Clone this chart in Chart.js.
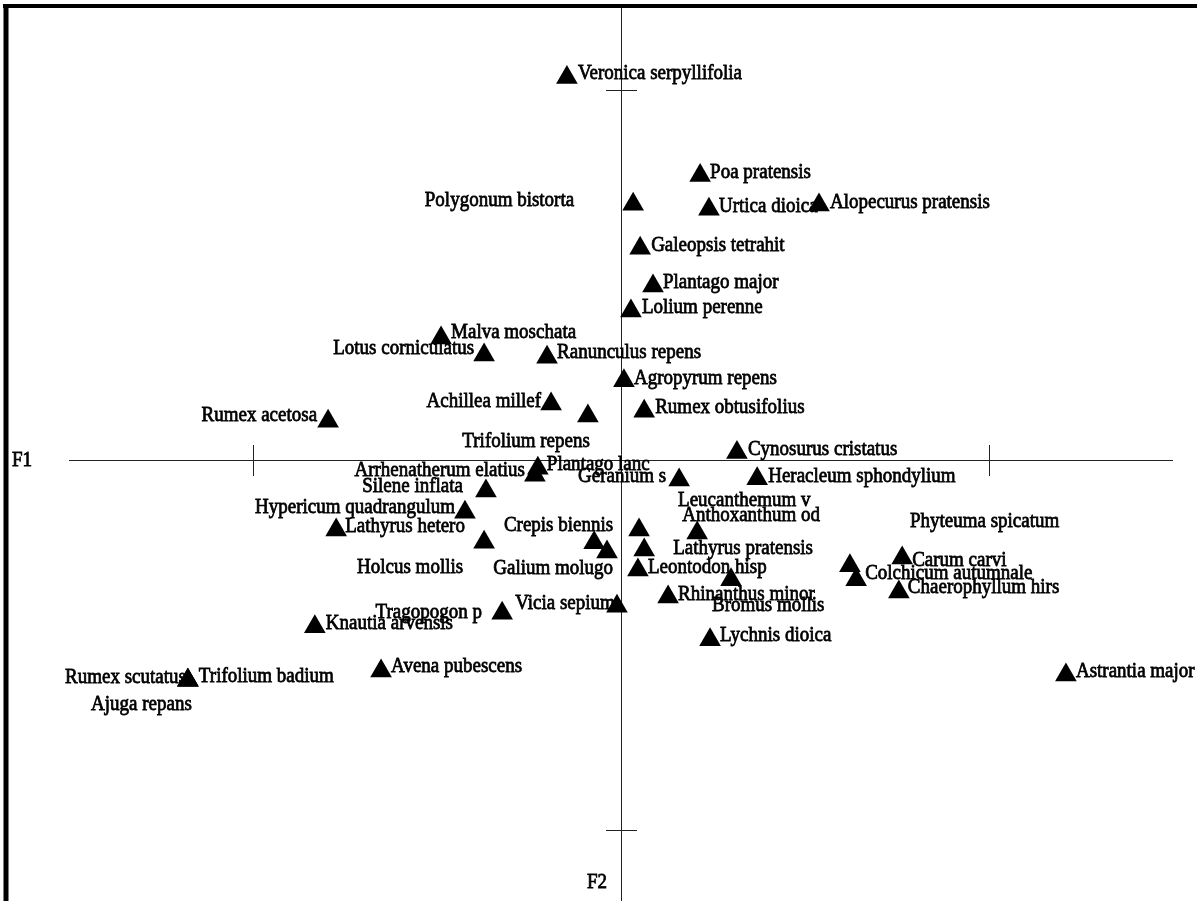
<!DOCTYPE html>
<html>
<head>
<meta charset="utf-8">
<title>F1 x F2</title>
<script src="https://cdn.jsdelivr.net/npm/chart.js@4.4.1/dist/chart.umd.min.js"></script>
<style>
  html, body { margin: 0; padding: 0; background: #ffffff; }
  #wrap { width: 1197px; height: 901px; }
  canvas { display: block; }
</style>
</head>
<body>
<div id="wrap"><canvas id="ordinationChart" width="1197" height="901"></canvas></div>
<script>
// species names + scores on the two factorial axes
const species = [
  'Veronica serpyllifolia', 'Poa pratensis', 'Polygonum bistorta', 'Urtica dioica', 'Alopecurus pratensis',
  'Galeopsis tetrahit', 'Plantago major', 'Lolium perenne', 'Malva moschata', 'Lotus corniculatus',
  'Ranunculus repens', 'Agropyrum repens', 'Achillea millef', 'Trifolium repens', 'Rumex obtusifolius',
  'Rumex acetosa', 'Cynosurus cristatus', 'Plantago lanc', 'Arrhenatherum elatius', 'Geranium s',
  'Heracleum sphondylium', 'Silene inflata', 'Hypericum quadrangulum', 'Lathyrus hetero', 'Holcus mollis',
  'Crepis biennis', 'Galium molugo', 'Leucanthemum v', 'Anthoxanthum od', 'Lathyrus pratensis',
  'Leontodon hisp', 'Bromus mollis', 'Rhinanthus minor', 'Lychnis dioica', 'Vicia sepium',
  'Tragopogon p', 'Knautia arvensis', 'Avena pubescens', 'Rumex scutatus', 'Trifolium badium',
  'Ajuga repans', 'Phyteuma spicatum', 'Colchicum autumnale', 'Carum carvi', 'Chaerophyllum hirs',
  'Astrantia major'
];
const f1 = [
  -0.147, 0.215, 0.033, 0.239, 0.538,
  0.052, 0.087, 0.027, -0.489, -0.372,
  -0.201, 0.008, -0.190, -0.090, 0.063,
  -0.796, 0.315, -0.226, -0.234, 0.158,
  0.370, -0.367, -0.424, -0.774, -0.372,
  -0.073, -0.038, 0.049, 0.207, 0.063,
  0.046, 0.299, 0.128, 0.242, -0.323,
  -0.011, -0.832, -0.652, -1.177, -1.177,
  -1.177, 0.622, 0.639, 0.764, 0.755,
  1.209
];
const f2 = [
  1.034, 0.769, 0.691, 0.678, 0.689,
  0.572, 0.470, 0.403, 0.330, 0.284,
  0.278, 0.214, 0.151, 0.119, 0.132,
  0.105, 0.020, -0.022, -0.041, -0.054,
  -0.051, -0.084, -0.141, -0.189, -0.222,
  -0.224, -0.249, -0.189, -0.197, -0.243,
  -0.297, -0.324, -0.370, -0.486, -0.414,
  -0.395, -0.451, -0.570, -0.595, -0.595,
  -0.595, -0.286, -0.324, -0.265, -0.357,
  -0.581
];
const axisNames = ['F1', 'F2'];
const f1Ticks = [-1, 1];
const f2Ticks = [-1, 1];

// where each name sits next to its triangle: [dx, dy, align] in px
const labelPlace = {
  'Veronica serpyllifolia': [11, -4, 'left'], 'Poa pratensis': [10, -3, 'left'],
  'Polygonum bistorta': [-59, -4, 'right'], 'Urtica dioica': [10, -3, 'left'],
  'Alopecurus pratensis': [11, -3, 'left'], 'Galeopsis tetrahit': [11, -3, 'left'],
  'Plantago major': [10, -4, 'left'], 'Lolium perenne': [11, -4, 'left'],
  'Malva moschata': [10, -6, 'left'], 'Lotus corniculatus': [-10, -7, 'right'],
  'Ranunculus repens': [10, -5, 'left'], 'Agropyrum repens': [10, -3, 'left'],
  'Achillea millef': [-10, -3, 'right'], 'Trifolium repens': [2, 25, 'right'],
  'Rumex obtusifolius': [11, -4, 'left'], 'Rumex acetosa': [-11, -6, 'right'],
  'Cynosurus cristatus': [11, -3, 'left'], 'Plantago lanc': [9, -4, 'left'],
  'Arrhenatherum elatius': [-10, -5, 'right'], 'Geranium s': [-13, -4, 'right'],
  'Heracleum sphondylium': [11, -3, 'left'], 'Silene inflata': [-23, -5, 'right'],
  'Hypericum quadrangulum': [-10, -5, 'right'], 'Lathyrus hetero': [9, -4, 'left'],
  'Holcus mollis': [-21, 25, 'right'], 'Crepis biennis': [19, -18, 'right'],
  'Galium molugo': [6, 16, 'right'], 'Leucanthemum v': [39, -30, 'left'],
  'Anthoxanthum od': [-15, -18, 'left'], 'Lathyrus pratensis': [29, -2, 'left'],
  'Leontodon hisp': [10, -3, 'left'], 'Bromus mollis': [-19, 25, 'left'],
  'Rhinanthus minor': [10, -3, 'left'], 'Lychnis dioica': [10, -5, 'left'],
  'Vicia sepium': [13, -10, 'left'], 'Tragopogon p': [-135, 6, 'right'],
  'Knautia arvensis': [11, -4, 'left'], 'Avena pubescens': [10, -5, 'left'],
  'Rumex scutatus': [-2, -3, 'right'], 'Trifolium badium': [11, -4, 'left'],
  'Ajuga repans': [4, 24, 'right'], 'Phyteuma spicatum': [60, -45, 'left'],
  'Colchicum autumnale': [9, -7, 'left'], 'Carum carvi': [10, 2, 'left'],
  'Chaerophyllum hirs': [9, -5, 'left'], 'Astrantia major': [10, -4, 'left']
};

const points = species.map((nome, i) => ({ x: f1[i], y: f2[i], nome }));

// scanned Times looks taller + heavier than the screen font, so stretch a bit and stroke it
function drawTexto(ctx, texto, x, y, align) {
  ctx.save();
  ctx.translate(x, y);
  ctx.scale(1, 1.15);
  ctx.textAlign = align;
  ctx.fillText(texto, 0, 0);
  ctx.strokeText(texto, 0, 0);
  ctx.restore();
}

// frame, axes, tick marks and names are drawn before the triangles so the marks sit on top
const ordinationPlugin = {
  id: 'ordination',
  beforeDatasetsDraw(chart) {
    const ctx = chart.ctx;
    const xs = chart.scales.x;
    const ys = chart.scales.y;
    const x0 = xs.getPixelForValue(0);
    const y0 = ys.getPixelForValue(0);
    ctx.save();

    // heavy frame top + left
    ctx.strokeStyle = '#000';
    ctx.lineWidth = 4;
    ctx.beginPath(); ctx.moveTo(3, 6); ctx.lineTo(1197, 6); ctx.stroke();
    ctx.lineWidth = 5;
    ctx.beginPath(); ctx.moveTo(6, 4); ctx.lineTo(6, 901); ctx.stroke();

    // axes
    ctx.strokeStyle = '#222';
    ctx.lineWidth = 1;
    ctx.beginPath();
    ctx.moveTo(xs.getPixelForValue(-1.5), Math.round(y0) + 0.5);
    ctx.lineTo(xs.getPixelForValue(1.5), Math.round(y0) + 0.5);
    ctx.moveTo(Math.round(x0) + 0.5, 8);
    ctx.lineTo(Math.round(x0) + 0.5, 901);
    f1Ticks.forEach(v => {
      const px = Math.round(xs.getPixelForValue(v)) + 0.5;
      ctx.moveTo(px, y0 - 15); ctx.lineTo(px, y0 + 16);
    });
    f2Ticks.forEach(v => {
      const py = Math.round(ys.getPixelForValue(v)) + 0.5;
      ctx.moveTo(x0 - 15, py); ctx.lineTo(x0 + 16, py);
    });
    ctx.stroke();

    ctx.font = '19px "Liberation Serif", "Times New Roman", serif';
    ctx.fillStyle = '#000';
    ctx.strokeStyle = '#000';
    ctx.lineWidth = 0.7;
    ctx.textBaseline = 'middle';

    // axis names
    drawTexto(ctx, axisNames[0], 12, y0, 'left');
    drawTexto(ctx, axisNames[1], x0 - 14, ys.getPixelForValue(ys.min) - 19, 'right');

    // species names
    const meta = chart.getDatasetMeta(0);
    meta.data.forEach((el, i) => {
      const nome = points[i].nome;
      const lp = labelPlace[nome] || [10, -3, 'left'];
      drawTexto(ctx, nome, el.x + lp[0], el.y + lp[1], lp[2]);
    });
    ctx.restore();
  }
};

const ctxGrafico = document.getElementById('ordinationChart').getContext('2d');
const ordinationChart = new Chart(ctxGrafico, {
  type: 'scatter',
  data: {
    datasets: [{
      label: 'species',
      data: points,
      pointStyle: 'triangle',
      pointRadius: 12.5,
      pointHoverRadius: 12.5,
      backgroundColor: '#000',
      borderColor: '#000',
      borderWidth: 0,
      clip: false
    }]
  },
  options: {
    responsive: false,
    animation: false,
    events: [],
    layout: { padding: 0, autoPadding: false },
    plugins: { legend: { display: false }, tooltip: { enabled: false } },
    scales: {
      x: { type: 'linear', display: false, min: -1.6875, max: 1.5652 },
      y: { type: 'linear', display: false, min: -1.1919, max: 1.2432 }
    }
  },
  plugins: [ordinationPlugin]
});
</script>
</body>
</html>
